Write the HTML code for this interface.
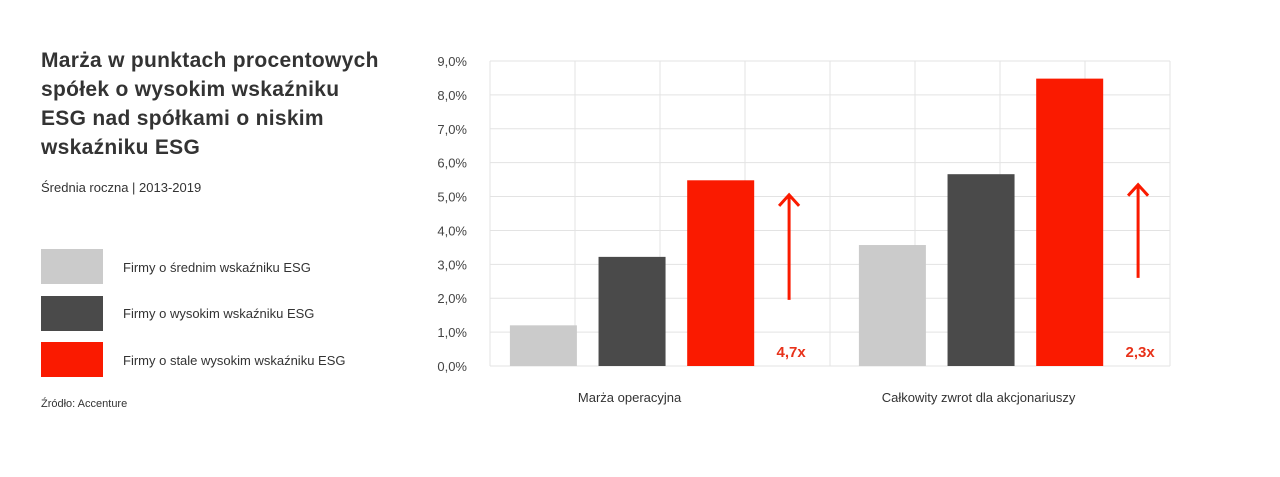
<!DOCTYPE html>
<html><head><meta charset="utf-8"><style>
body{margin:0;width:1280px;height:477px;background:#fff;font-family:"Liberation Sans",sans-serif;color:#333;position:relative;overflow:hidden}
.t{position:absolute;left:41px;top:46px;font-size:21px;font-weight:bold;line-height:29px;color:#333;white-space:nowrap;letter-spacing:0.3px}
.s{position:absolute;left:41px;top:180px;font-size:13px}
.lg{position:absolute;left:41px;width:62px;height:35px}
.ll{position:absolute;left:123px;font-size:13px}
.src{position:absolute;left:41px;top:398px;font-size:11px}
svg{position:absolute;left:0;top:0}
</style></head><body>
<div class="t">Marża w punktach procentowych<br>spółek o wysokim wskaźniku<br>ESG nad spółkami o niskim<br>wskaźniku ESG</div>
<div class="s">Średnia roczna | 2013-2019</div>
<div class="lg" style="top:249px;background:#cbcbcb"></div>
<div class="ll" style="top:260px">Firmy o średnim wskaźniku ESG</div>
<div class="lg" style="top:296px;background:#4a4a4a"></div>
<div class="ll" style="top:306px">Firmy o wysokim wskaźniku ESG</div>
<div class="lg" style="top:342px;background:#fa1a00"></div>
<div class="ll" style="top:353px">Firmy o stale wysokim wskaźniku ESG</div>
<div class="src">Źródło: Accenture</div>
<svg id="c" width="1280" height="477"></svg>
<script>
const categories=["Marża operacyjna","Całkowity zwrot dla akcjonariuszy"];
const seriesMedium=[1.2,3.57];
const seriesHigh=[3.22,5.66];
const seriesConsistent=[5.48,8.48];
const multipliers=["4,7x","2,3x"];
const arrowFrom=[1.95,2.6];
const arrowTo=[5.05,5.35];
const yTicks=[0,1,2,3,4,5,6,7,8,9];
const colors=["#cbcbcb","#4a4a4a","#fa1a00"];
const series=[seriesMedium,seriesHigh,seriesConsistent];
const X0=490,X1=1170,Y0=366,Y9=61;
const y=v=>Y0-(v/9)*(Y0-Y9);
const gw=349;
const svg=document.getElementById('c');
const NS="http://www.w3.org/2000/svg";
function mk(t,a){const e=document.createElementNS(NS,t);for(const k in a)e.setAttribute(k,a[k]);svg.appendChild(e);return e;}
yTicks.forEach(v=>{
 const l=mk('line',{x1:X0,x2:X1,y1:y(v),y2:y(v),stroke:'#e3e3e3','stroke-width':1});
 
 
 const t=mk('text',{x:467,y:y(v)+5,'text-anchor':'end','font-size':13,fill:'#444','font-family':'Liberation Sans, sans-serif'});
 t.textContent=v.toFixed(1).replace('.',',')+'%';
 
 
});
for(let i=0;i<=8;i++){
 const x=X0+i*(X1-X0)/8;
 const l=mk('line',{x1:x,x2:x,y1:Y9,y2:Y0,stroke:'#e3e3e3','stroke-width':1});
 
 
}
categories.forEach((c,g)=>{
 const gs=X0+g*gw;
 series.forEach((s,i)=>{
  const cx=gs+(0.153+0.254*i)*gw, w=0.192*gw;
  const r=mk('rect',{x:cx-w/2,y:y(s[g]),width:w,height:Y0-y(s[g]),fill:colors[i]});
  
  
 });
 const ax=gs+0.857*gw;
 const a=mk('path',{d:`M${ax} ${y(arrowFrom[g])}V${y(arrowTo[g])}M${ax-10} ${y(arrowTo[g])+11}L${ax} ${y(arrowTo[g])}L${ax+10} ${y(arrowTo[g])+11}`,stroke:'#fa1a00','stroke-width':3,fill:'none'});
 
 
 const m=mk('text',{x:ax+2,y:357,'text-anchor':'middle','font-size':15,'font-weight':'bold',fill:'#e8321a','font-family':'Liberation Sans, sans-serif'});
 m.textContent=multipliers[g];
 
 
 const cl=mk('text',{x:gs+0.40*gw,y:402,'text-anchor':'middle','font-size':13,fill:'#333','font-family':'Liberation Sans, sans-serif'});
 cl.textContent=c;
 
 
});
</script>
</body></html>
